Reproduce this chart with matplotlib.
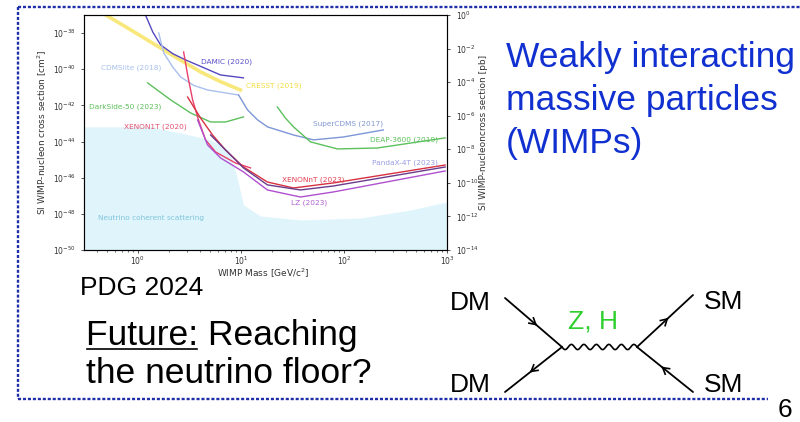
import numpy as np
import matplotlib
matplotlib.use("Agg")
import matplotlib.pyplot as plt

# -------------------------
# Data
# mass in GeV/c^2, cross section as log10(sigma / cm^2)
# -------------------------
cresst_mass = [0.49, 0.86, 1.67, 2.6, 4.07, 6.4, 9.9]
cresst_logsig = [-37.0, -37.83, -38.83, -39.5, -40.15, -40.7, -41.15]

damic_mass = [1.19, 1.4, 1.67, 2.2, 2.92, 4.5, 6.36, 10.6]
damic_logsig = [-37.0, -37.94, -38.66, -39.15, -39.49, -39.95, -40.32, -40.48]

cdmslite_mass = [1.6, 1.79, 2.2, 2.61, 3.5, 4.76, 9.29]
cdmslite_logsig = [-38.0, -39.1, -39.9, -40.43, -40.9, -41.15, -41.42]

supercdms_mass = [9.5, 11.6, 14.5, 18.1, 32.4, 50.6, 98.6, 240]
supercdms_logsig = [-41.42, -42.25, -42.8, -43.19, -43.64, -43.91, -43.75, -43.36]

darkside_mass = [1.25, 2.09, 3.26, 5.09, 7.11, 10.6]
darkside_logsig = [-40.76, -41.7, -42.42, -42.92, -42.92, -42.64]

deap_mass = [22.6, 27.0, 32.4, 47.3, 86.3, 210, 955]
deap_logsig = [-42.09, -42.7, -43.19, -44.02, -44.41, -44.36, -43.8]

xenon1t_mass = [2.79, 3.05, 3.41, 3.89, 4.55, 5.69, 8.89, 12.4]
xenon1t_logsig = [-39.05, -40.32, -41.7, -42.81, -43.91, -44.58, -45.19, -45.46]

xenonnt_mass = [3.05, 4.07, 5.32, 7.11, 10.6, 18.1, 32.4, 78.9, 955]
xenonnt_logsig = [-41.54, -42.7, -43.64, -44.47, -45.41, -46.24, -46.57, -46.29, -45.3]

lz_mass = [3.81, 4.76, 6.36, 10.6, 18.1, 37.8, 78.9, 955]
lz_logsig = [-42.81, -44.19, -44.91, -45.68, -46.68, -47.07, -46.79, -45.63]

pandax_mass = [5.09, 10.6, 18.1, 37.8, 78.9, 955]
pandax_logsig = [-43.64, -45.46, -46.4, -46.68, -46.46, -45.41]

# upper edge of the neutrino fog
fog_mass = [0.307, 1.34, 2.61, 5.09, 7.6, 9.08, 10.6, 15.5, 37.8, 144, 439, 1000]
fog_logsig = [-43.19, -43.19, -43.53, -43.91, -44.47, -45.85, -47.51, -48.12,
              -48.34, -48.23, -47.79, -47.34]

curves = [
    (cresst_mass, cresst_logsig, "#f7e35a", 2.6, 0.8),
    (damic_mass, damic_logsig, "#5548c0", 1.0, 1.0),
    (cdmslite_mass, cdmslite_logsig, "#a9bfee", 1.0, 1.0),
    (supercdms_mass, supercdms_logsig, "#7c96d6", 1.0, 1.0),
    (darkside_mass, darkside_logsig, "#5cc05c", 1.0, 1.0),
    (deap_mass, deap_logsig, "#5cc05c", 1.0, 1.0),
    (xenon1t_mass, xenon1t_logsig, "#e8406a", 1.0, 1.0),
    (xenonnt_mass, xenonnt_logsig, "#d83040", 1.0, 1.0),
    (pandax_mass, pandax_logsig, "#6a3c8c", 1.0, 1.0),
    (lz_mass, lz_logsig, "#b050d0", 1.0, 1.0),
]

# label text, mass, log10 sigma, colour
labels = [
    ("CRESST (2019)", 11.1, -40.93, "#f2dc40"),
    ("DAMIC (2020)", 4.07, -39.6, "#5a50c8"),
    ("CDMSlite (2018)", 0.44, -39.93, "#a8c0ec"),
    ("DarkSide-50 (2023)", 0.336, -42.09, "#5cc05c"),
    ("XENON1T (2020)", 0.73, -43.19, "#e05070"),
    ("SuperCDMS (2017)", 50.6, -43.0, "#8098d0"),
    ("DEAP-3600 (2019)", 180, -43.91, "#5cc05c"),
    ("XENONnT (2023)", 25.3, -46.13, "#e04050"),
    ("PandaX-4T (2023)", 188, -45.19, "#9a9ce0"),
    ("LZ (2023)", 30.3, -47.4, "#b060d0"),
    ("Neutrino coherent scattering", 0.41, -48.23, "#80c4dc"),
]

# -------------------------
# Figure
# -------------------------
fig = plt.figure(figsize=(8, 4.22), dpi=100)
fig.patch.set_facecolor("white")

ax = fig.add_axes([0.105, 0.4076, 0.454, 0.557])
ax.set_xscale("log")
ax.set_yscale("log")
ax.set_xlim(10 ** -0.52, 1e3)
ax.set_ylim(1e-50, 1e-37)

ax.fill_between(fog_mass, 1e-50, 10 ** np.array(fog_logsig),
                color="#dff5fb", lw=0, zorder=0)

for mass, logsig, color, lw, alpha in curves:
    ax.plot(mass, 10 ** np.array(logsig), color=color, lw=lw, alpha=alpha)

for text, m, ls, color in labels:
    ax.text(m, 10 ** ls, text, color=color, fontsize=5.3, va="center", ha="left")

ax.set_yticks([10.0 ** e for e in range(-50, -37, 2)])
ax.set_yticklabels([f"$10^{{{e}}}$" for e in range(-50, -37, 2)])
ax.yaxis.set_minor_locator(matplotlib.ticker.NullLocator())
ax.tick_params(labelsize=5.5, length=2.5, width=0.6, colors="#333333")
ax.tick_params(axis="x", pad=0.5)
ax.tick_params(which="minor", length=1.5, width=0.4)
for s in ax.spines.values():
    s.set_color("#444444")
    s.set_linewidth(0.8)

ax.set_ylabel("SI WIMP-nucleon cross section [cm$^2$]", fontsize=6.5, color="#333333")
ax.yaxis.set_label_coords(-0.096, 0.5)
ax.set_xlabel("WIMP Mass [GeV/c$^2$]", fontsize=6.5, color="#333333")
ax.xaxis.set_label_coords(0.493, -0.072)

ax2 = ax.twinx()
ax2.set_yscale("log")
ax2.set_ylim(1e-14, 1)
ax2.set_yticks([10.0 ** e for e in range(-14, 1, 2)])
ax2.set_yticklabels([f"$10^{{{e}}}$" for e in range(-14, 1, 2)])
ax2.yaxis.set_minor_locator(matplotlib.ticker.NullLocator())
ax2.tick_params(labelsize=5.5, length=2.5, width=0.6, colors="#333333")
ax2.set_ylabel("SI WIMP-nucleoncross section [pb]", fontsize=6.5, color="#333333")
ax2.yaxis.set_label_coords(1.088, 0.5)

# -------------------------
# Slide overlay (pixel coordinates)
# -------------------------
ov = fig.add_axes([0, 0, 1, 1])
ov.set_xlim(0, 800)
ov.set_ylim(422, 0)
ov.axis("off")

border = dict(color="#1f2fa8", lw=1.7, linestyle=(0, (1.3, 0.8)),
              dash_capstyle="butt")
ov.plot([18, 800], [7, 7], **border)
ov.plot([18, 18], [7, 399], **border)
ov.plot([18, 768], [399, 399], **border)

font = "Liberation Sans"
blue = "#1030d0"
for i, line in enumerate(["Weakly interacting", "massive particles", "(WIMPs)"]):
    ov.text(506, 67 + 43 * i, line, fontsize=25.5, color=blue, family=font,
            va="baseline", ha="left")

ov.text(80, 295, "PDG 2024", fontsize=19, family=font, va="baseline")
ov.text(86, 345, "Future: Reaching", fontsize=25.5, family=font, va="baseline")
ov.text(86, 383, "the neutrino floor?", fontsize=25.5, family=font, va="baseline")

# underline "Future:"
renderer = fig.canvas.get_renderer()
tmp = ov.text(86, 345, "Future:", fontsize=25.5, family=font, va="baseline")
bb = tmp.get_window_extent(renderer)
tmp.remove()
inv = ov.transData.inverted()
x0 = inv.transform((bb.x0, 0))[0]
x1 = inv.transform((bb.x1, 0))[0]
ov.plot([x0 + 1, x1 - 1], [349, 349], color="black", lw=1.2)

# Feynman diagram
for t, x, y in [("DM", 470, 303), ("DM", 470, 385), ("SM", 724, 302), ("SM", 724, 385)]:
    ov.text(x, y, t, fontsize=19, family=font, ha="center", va="center")
ov.text(593, 321, "Z, H", fontsize=19, family=font, color="#2ed02e",
        ha="center", va="center")
ov.text(785, 410, "6", fontsize=19, family=font, ha="center", va="center")

vl = (562, 347)
vr = (637, 347)
legs = [((505, 298), vl), (vl, (505, 392)), (vr, (693, 295)), ((693, 392), vr)]
for (xa, ya), (xb, yb) in legs:
    ov.plot([xa, xb], [ya, yb], color="black", lw=1.3, solid_capstyle="round")
    d = np.array([xb - xa, yb - ya], float)
    d /= np.hypot(*d)
    tip = np.array([(xa + xb) / 2, (ya + yb) / 2]) + 3 * d
    for ang in (np.radians(30), -np.radians(30)):
        rot = np.array([[np.cos(ang), -np.sin(ang)], [np.sin(ang), np.cos(ang)]])
        back = tip - 7 * rot @ d
        ov.plot([tip[0], back[0]], [tip[1], back[1]], color="black", lw=1.2)

wx = np.linspace(vl[0], vr[0], 300)
wy = vl[1] + 2.6 * np.sin(2 * np.pi * 6 * (wx - vl[0]) / (vr[0] - vl[0]))
ov.plot(wx, wy, color="black", lw=1.2)

fig.savefig("out.png", dpi=100)
